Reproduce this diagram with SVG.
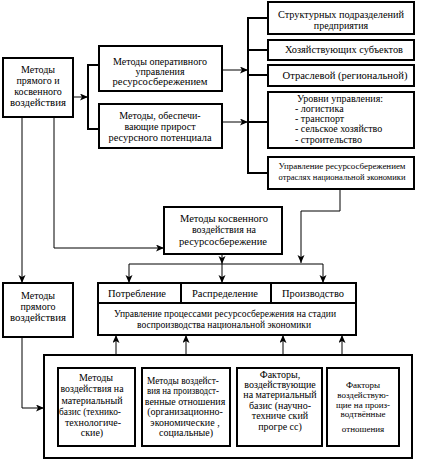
<svg xmlns="http://www.w3.org/2000/svg" width="421" height="462" viewBox="0 0 421 462" font-family="Liberation Serif, Times New Roman, Times, DejaVu Serif, serif">
<style>
.b{fill:#fff;stroke:#000;stroke-width:2}
.c{fill:none;stroke:#000;stroke-width:1}
.k{fill:none;stroke:#000;stroke-width:2}
text{font-size:10px;fill:#000;text-anchor:middle}
.l{text-anchor:start}
.s{font-size:9px}
.d{font-size:9px}
</style>
<defs>
<marker id="a" markerUnits="userSpaceOnUse" markerWidth="9" markerHeight="8" refX="8" refY="3.5" orient="auto">
<path d="M0,0 L8,3.5 L0,7 L2,3.5 z" fill="#000"/>
</marker>
</defs>
<rect width="421" height="462" fill="#fff"/>
<g id="connectors">
<path class="c" d="M73,97 H88" marker-end="url(#a)"/>
<path class="k" d="M99,65 H88 V129 H99"/>
<path class="c" d="M222,70 H248" marker-end="url(#a)"/>
<path class="c" d="M222,122 H248" marker-end="url(#a)"/>
<path class="k" d="M268,18 H248 V173 H268"/>
<path class="k" d="M248,50 H268 M248,75 H268 M248,122 H268"/>
<path class="c" d="M340,189 V211 H301 V263" marker-end="url(#a)"/>
<path class="c" d="M54,117 V248 H164" marker-end="url(#a)"/>
<path class="c" d="M222,254 V264" marker-end="url(#a)"/>
<path class="c" d="M129,264 H323"/>
<path class="c" d="M129,264 V283" marker-end="url(#a)"/>
<path class="c" d="M222,264 V283" marker-end="url(#a)"/>
<path class="c" d="M323,264 V283" marker-end="url(#a)"/>
<path class="c" d="M22,117 V283" marker-end="url(#a)"/>
<path class="c" d="M22,337 V408 H44" marker-end="url(#a)"/>
<path class="c" d="M116,368 V335" marker-end="url(#a)"/>
<path class="c" d="M186,368 V335" marker-end="url(#a)"/>
<path class="c" d="M283,368 V335" marker-end="url(#a)"/>
<path class="c" d="M342,368 V335" marker-end="url(#a)"/>
</g>
<g id="n_direct_indirect">
<rect class="b" x="3" y="58" width="70" height="59"/>
<text x="38" y="73">Методы</text>
<text x="38" y="84">прямого и</text>
<text x="38" y="95">косвенного</text>
<text x="38" y="106" textLength="56" lengthAdjust="spacingAndGlyphs">воздействия</text>
</g>
<g id="n_operative">
<rect class="b" x="99" y="46" width="123" height="45"/>
<text x="160" y="65">Методы оперативного</text>
<text x="160" y="75">управления</text>
<text x="160" y="85" textLength="95" lengthAdjust="spacingAndGlyphs">ресурсосбережением</text>
</g>
<g id="n_potential">
<rect class="b" x="99" y="104" width="123" height="44"/>
<text x="160" y="119">Методы, обеспечи-</text>
<text x="160" y="130">вающие прирост</text>
<text x="160" y="141" textLength="103" lengthAdjust="spacingAndGlyphs">ресурсного потенциала</text>
</g>
<g id="n_struct">
<rect class="b" x="268" y="2" width="146" height="32"/>
<text x="341" y="18" textLength="126" lengthAdjust="spacingAndGlyphs">Структурных подразделений</text>
<text x="341" y="29">предприятия</text>
</g>
<g id="n_subjects">
<rect class="b" x="268" y="40" width="146" height="20"/>
<text x="344" y="53" textLength="118" lengthAdjust="spacingAndGlyphs">Хозяйствующих субъектов</text>
</g>
<g id="n_branch">
<rect class="b" x="268" y="65" width="146" height="21"/>
<text x="345" y="79" textLength="125" lengthAdjust="spacingAndGlyphs">Отраслевой (региональной)</text>
</g>
<g id="n_levels">
<rect class="b" x="268" y="92" width="146" height="56"/>
<text class="l" x="297" y="102">Уровни управления:</text>
<text class="l" x="295" y="112">- логистика</text>
<text class="l" x="295" y="122">- транспорт</text>
<text class="l" x="295" y="132">- сельское хозяйство</text>
<text class="l" x="295" y="143">- строительство</text>
</g>
<g id="n_national">
<rect class="b" x="268" y="157" width="146" height="32"/>
<text x="342" y="169" class="s" textLength="127" lengthAdjust="spacingAndGlyphs">Управление ресурсосбережением</text>
<text x="342" y="180" class="s" textLength="127" lengthAdjust="spacingAndGlyphs">отраслях национальной экономики</text>
</g>
<g id="n_indirect">
<rect class="b" x="164" y="207" width="118" height="47"/>
<text x="224" y="222" textLength="88" lengthAdjust="spacingAndGlyphs">Методы косвенного</text>
<text x="224" y="233">воздействия на</text>
<text x="223" y="245" textLength="88" lengthAdjust="spacingAndGlyphs">ресурсосбережение</text>
</g>
<g id="n_direct">
<rect class="b" x="3" y="283" width="70" height="54"/>
<text x="38" y="299">Методы</text>
<text x="38" y="310">прямого</text>
<text x="38" y="321" textLength="56" lengthAdjust="spacingAndGlyphs">воздействия</text>
</g>
<g id="n_processes">
<rect class="b" x="98" y="283" width="258" height="52"/>
<path class="k" d="M98,303 H356 M181,283 V303 M271,283 V303"/>
<text x="137" y="297" textLength="58" lengthAdjust="spacingAndGlyphs">Потребление</text>
<text x="225" y="297" textLength="66" lengthAdjust="spacingAndGlyphs">Распределение</text>
<text x="313" y="297" textLength="62" lengthAdjust="spacingAndGlyphs">Производство</text>
<text x="225" y="317" textLength="222" lengthAdjust="spacingAndGlyphs">Управление процессами ресурсосбережения на стадии</text>
<text x="224" y="328" textLength="174" lengthAdjust="spacingAndGlyphs">воспроизводства национальной экономики</text>
</g>
<g id="n_outer">
<rect class="b" x="44" y="355" width="368" height="103"/>
</g>
<g id="n_material">
<rect class="b" x="58" y="368" width="77" height="78"/>
<text x="96" y="381">Методы</text>
<text x="92" y="392" textLength="63" lengthAdjust="spacingAndGlyphs">воздействия на</text>
<text x="92" y="404">материальный</text>
<text x="90" y="415" textLength="62" lengthAdjust="spacingAndGlyphs">базис (технико-</text>
<text x="93" y="426">технологиче-</text>
<text x="92" y="436">ские)</text>
</g>
<g id="n_relations">
<rect class="b" x="142" y="368" width="88" height="78"/>
<text x="183" y="384" textLength="72" lengthAdjust="spacingAndGlyphs">Методы воздейст-</text>
<text x="183" y="394" textLength="72" lengthAdjust="spacingAndGlyphs">вия на производст-</text>
<text x="185" y="405">венные отношения</text>
<text x="185" y="415">(организационно-</text>
<text x="185" y="426">экономические ,</text>
<text x="186" y="436">социальные)</text>
</g>
<g id="n_factors_material">
<rect class="b" x="237" y="368" width="85" height="78"/>
<text x="280" y="378">Факторы,</text>
<text x="280" y="388">воздействующие</text>
<text x="280" y="398">на материальный</text>
<text x="280" y="409">базис (научно-</text>
<text x="280" y="419">техниче ский</text>
<text x="280" y="430">прогре сс)</text>
</g>
<g id="n_factors_relations">
<rect class="b" x="327" y="368" width="72" height="78"/>
<text class="d" x="363" y="388">Факторы</text>
<text class="d" x="363" y="398">воздействую-</text>
<text class="d" x="363" y="408">щие на произ-</text>
<text class="d" x="363" y="417">водтвённые</text>
<text class="d" x="363" y="432">отношения</text>
</g>
</svg>
